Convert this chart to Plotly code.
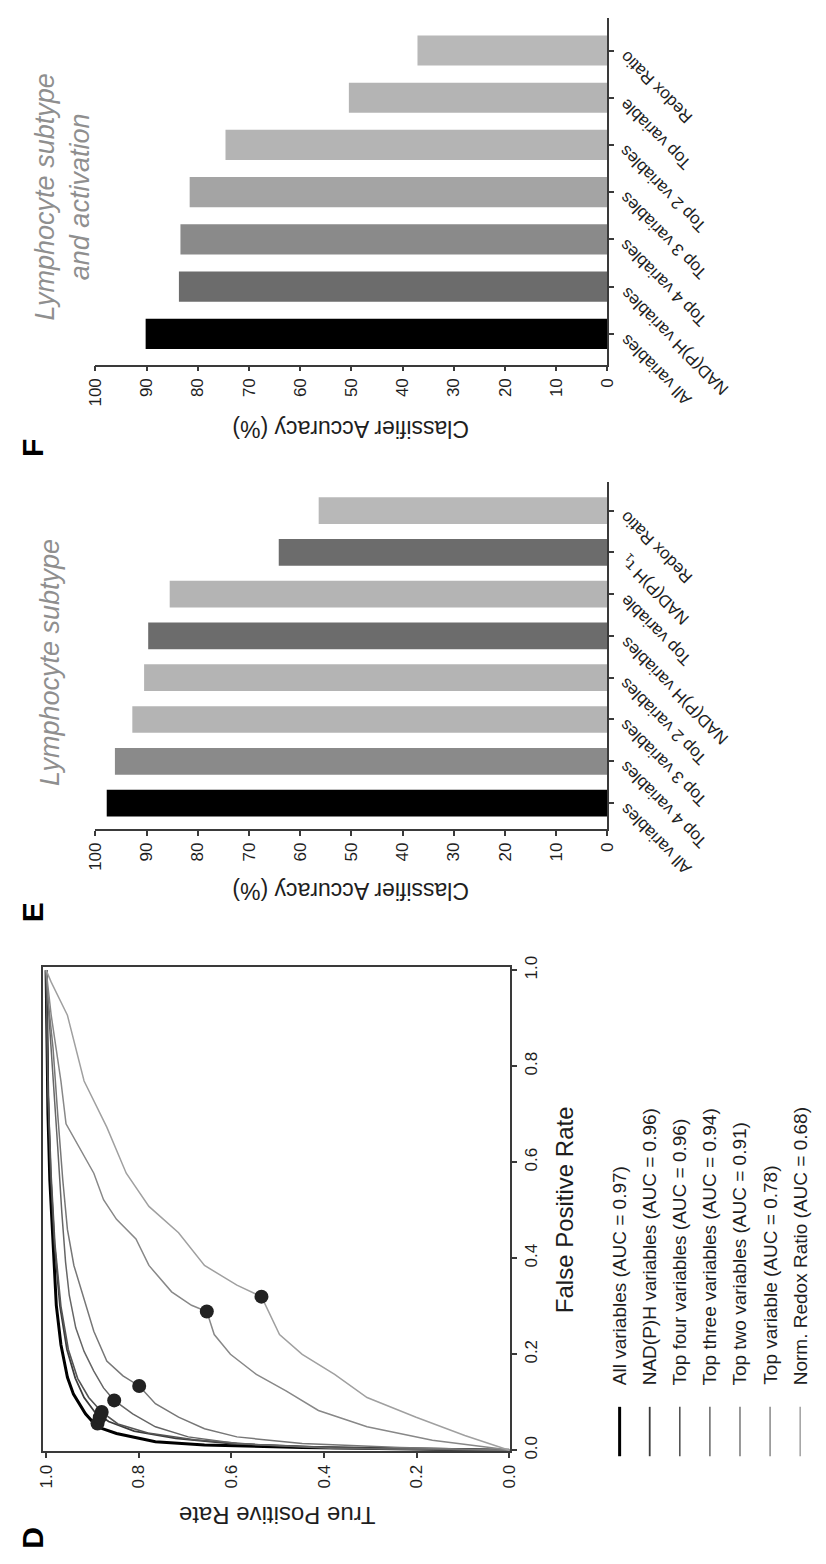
import plotly.graph_objects as go

# ---------------- data ----------------
# ROC curves (false positive rate, true positive rate)
roc_names = [
    "All variables (AUC = 0.97)",
    "NAD(P)H variables (AUC = 0.96)",
    "Top four variables (AUC = 0.96)",
    "Top three variables (AUC = 0.94)",
    "Top two variables (AUC = 0.91)",
    "Top variable (AUC = 0.78)",
    "Norm. Redox Ratio (AUC = 0.68)",
]

fpr_all = [0, 0.006, 0.011, 0.018, 0.035, 0.049, 0.076, 0.117, 0.152, 0.220, 0.302, 0.426, 0.563, 0.700, 0.940, 1.0]
tpr_all = [0, 0.447, 0.658, 0.764, 0.848, 0.890, 0.915, 0.941, 0.954, 0.968, 0.978, 0.985, 0.992, 0.996, 1.0, 1.0]

fpr_nadph = [0, 0.006, 0.014, 0.025, 0.040, 0.060, 0.080, 0.110, 0.150, 0.210, 0.300, 0.430, 0.570, 0.750, 1.0]
tpr_nadph = [0, 0.40, 0.60, 0.72, 0.81, 0.865, 0.895, 0.918, 0.937, 0.955, 0.970, 0.982, 0.990, 0.996, 1.0]

fpr_top4 = [0, 0.005, 0.012, 0.022, 0.036, 0.055, 0.080, 0.110, 0.150, 0.210, 0.300, 0.430, 0.570, 0.750, 1.0]
tpr_top4 = [0, 0.35, 0.55, 0.68, 0.78, 0.845, 0.880, 0.908, 0.932, 0.952, 0.968, 0.981, 0.989, 0.996, 1.0]

fpr_top3 = [0, 0.004, 0.014, 0.028, 0.049, 0.076, 0.104, 0.130, 0.165, 0.206, 0.255, 0.323, 0.392, 0.494, 0.632, 0.769, 0.906, 1.0]
tpr_top3 = [0, 0.377, 0.588, 0.693, 0.764, 0.813, 0.853, 0.876, 0.897, 0.918, 0.936, 0.950, 0.958, 0.966, 0.975, 0.985, 0.994, 1.0]

fpr_top2 = [0, 0.006, 0.014, 0.028, 0.045, 0.069, 0.097, 0.134, 0.155, 0.186, 0.248, 0.316, 0.385, 0.460, 0.563, 0.700, 0.837, 0.940, 1.0]
tpr_top2 = [0, 0.236, 0.447, 0.588, 0.658, 0.714, 0.764, 0.799, 0.834, 0.869, 0.897, 0.918, 0.940, 0.954, 0.964, 0.975, 0.985, 0.996, 1.0]

fpr_top1 = [0, 0.004, 0.021, 0.049, 0.083, 0.124, 0.158, 0.200, 0.241, 0.289, 0.302, 0.330, 0.385, 0.440, 0.481, 0.522, 0.577, 0.638, 0.680, 0.769, 0.906, 1.0]
tpr_top1 = [0, 0.025, 0.166, 0.307, 0.412, 0.482, 0.546, 0.602, 0.637, 0.653, 0.686, 0.729, 0.778, 0.806, 0.848, 0.876, 0.897, 0.932, 0.957, 0.968, 0.989, 1.0]

fpr_redox = [0, 0.031, 0.069, 0.110, 0.158, 0.200, 0.241, 0.320, 0.344, 0.385, 0.453, 0.508, 0.577, 0.673, 0.769, 0.906, 0.975, 1.0]
tpr_redox = [0, 0.096, 0.201, 0.307, 0.377, 0.447, 0.496, 0.535, 0.588, 0.658, 0.714, 0.778, 0.827, 0.869, 0.918, 0.954, 0.989, 1.0]

# operating points marked on each curve (same order as roc_names)
op_fpr = [0.056, 0.069, 0.080, 0.104, 0.134, 0.289, 0.320]
op_tpr = [0.889, 0.884, 0.880, 0.853, 0.799, 0.653, 0.535]

# classifier accuracy, lymphocyte subtype (listed bottom bar first)
subtype_labels = ["All variables", "Top 4 variables", "Top 3 variables", "Top 2 variables",
                  "NAD(P)H variables", "Top variable", "NAD(P)H τ<sub>1</sub>", "Redox Ratio"]
subtype_acc = [97.8, 96.2, 92.8, 90.5, 89.7, 85.5, 64.2, 56.4]

# classifier accuracy, lymphocyte subtype and activation
activation_labels = ["All variables", "NAD(P)H variables", "Top 4 variables", "Top 3 variables",
                     "Top 2 variables", "Top variable", "Redox Ratio"]
activation_acc = [90.2, 83.7, 83.4, 81.6, 74.6, 50.5, 37.1]

acc_ticks = [0, 10, 20, 30, 40, 50, 60, 70, 80, 90, 100]
rate_ticks = [0.0, 0.2, 0.4, 0.6, 0.8, 1.0]

# ---------------- styling ----------------
W, H = 826, 1564
FONT = "Liberation Sans, Arial, sans-serif"
INK = "#1e1e1e"
AXIS = "#3a3a3a"


def px(x):
    return x / W


def py(y):
    return 1 - y / H


roc_fpr = [fpr_all, fpr_nadph, fpr_top4, fpr_top3, fpr_top2, fpr_top1, fpr_redox]
roc_tpr = [tpr_all, tpr_nadph, tpr_top4, tpr_top3, tpr_top2, tpr_top1, tpr_redox]
roc_colors = ["#000000", "#3c3c3c", "#555555", "#666666", "#777777", "#888888", "#a0a0a0"]
roc_widths = [3.0, 1.8, 1.6, 1.5, 1.5, 1.5, 1.5]

subtype_colors = ["#000000", "#8a8a8a", "#b4b4b4", "#b4b4b4", "#6c6c6c", "#b4b4b4", "#6c6c6c", "#b8b8b8"]
activation_colors = ["#000000", "#6c6c6c", "#8a8a8a", "#a4a4a4", "#b4b4b4", "#b4b4b4", "#b8b8b8"]

fig = go.Figure()

# ROC panel (rotated: TPR runs right-to-left, FPR runs bottom-to-top)
for f, t, c, w in zip(roc_fpr, roc_tpr, roc_colors, roc_widths):
    fig.add_trace(go.Scatter(x=t, y=f, mode="lines", line=dict(color=c, width=w),
                             xaxis="x", yaxis="y", hoverinfo="skip"))
fig.add_trace(go.Scatter(x=op_tpr, y=op_fpr, mode="markers",
                         marker=dict(size=14, color="#222222"),
                         xaxis="x", yaxis="y", hoverinfo="skip"))

# bar panels (rotated: bars grow leftwards from the category axis)
fig.add_trace(go.Bar(x=subtype_acc, y=subtype_labels, orientation="h", width=0.64,
                     marker=dict(color=subtype_colors, line=dict(width=0)),
                     xaxis="x2", yaxis="y2"))
fig.add_trace(go.Bar(x=activation_acc, y=activation_labels, orientation="h", width=0.64,
                     marker=dict(color=activation_colors, line=dict(width=0)),
                     xaxis="x3", yaxis="y3"))

tickfont = dict(family=FONT, size=17, color=INK)
common = dict(showgrid=False, zeroline=False, showline=True, linecolor=AXIS, linewidth=1.5,
              ticks="outside", ticklen=5, tickcolor=AXIS, tickwidth=1.5, tickfont=tickfont)

fig.update_layout(
    width=W, height=H, margin=dict(l=0, r=0, t=0, b=0),
    paper_bgcolor="white", plot_bgcolor="white", showlegend=False,
    font=dict(family=FONT, color=INK),
    xaxis=dict(domain=[px(35), px(513)], range=[1.0063, -0.0021], anchor="y",
               mirror=True, tickvals=rate_ticks, tickformat=".1f", tickangle=-90, **common),
    yaxis=dict(domain=[py(1458), py(968)], range=[-0.002, 1.006], anchor="x", side="right",
               mirror=True, tickvals=rate_ticks, tickformat=".1f", tickangle=-90, **common),
    xaxis2=dict(domain=[px(88.5), px(612.5)], range=[100, 0], anchor="y2",
                tickvals=acc_ticks, tickangle=-90, **common),
    yaxis2=dict(domain=[py(828), py(477)], range=[-0.62, 7.68], anchor="x2", side="right",
                type="category", categoryorder="array", categoryarray=subtype_labels,
                showticklabels=False, **common),
    xaxis3=dict(domain=[px(88.5), px(612.5)], range=[100, 0], anchor="y3",
                tickvals=acc_ticks, tickangle=-90, **common),
    yaxis3=dict(domain=[py(358), py(7)], range=[-0.65, 6.69], anchor="x3", side="right",
                type="category", categoryorder="array", categoryarray=activation_labels,
                showticklabels=False, **common),
)

ann = []


def text(x, y, s, angle, size, color=INK):
    ann.append(dict(x=px(x), y=py(y), xref="paper", yref="paper", text=s, showarrow=False,
                    textangle=angle, xanchor="center", yanchor="middle",
                    font=dict(family=FONT, size=size, color=color)))


# axis titles
text(274, 1523, "True Positive Rate", 180, 24)
text(568, 1213, "False Positive Rate", -90, 24)
text(350, 891, "Classifier Accuracy (%)", 180, 23)
text(350, 423, "Classifier Accuracy (%)", 180, 23)

# panel titles
text(42, 660, "<i>Lymphocyte subtype</i>", -90, 27, color="#8f8f8f")
text(55, 188, "<i>Lymphocyte subtype<br>and activation</i>", -90, 27, color="#8f8f8f")

# panel letters
text(24, 1545, "<b>D</b>", -90, 30, color="#000000")
text(24, 912, "<b>E</b>", -90, 30, color="#000000")
text(24, 442, "<b>F</b>", -90, 30, color="#000000")

# slanted category labels next to the bar axes
for yref, labels in (("y2", subtype_labels), ("y3", activation_labels)):
    for lab in labels:
        ann.append(dict(x=px(619), y=lab, xref="paper", yref=yref, text=lab, showarrow=False,
                        textangle=-135, xanchor="left", yanchor="top", yshift=6,
                        font=dict(family=FONT, size=17, color=INK)))

# ROC legend: vertical line samples with rotated labels
shapes = []
for i, (name, c, w) in enumerate(zip(roc_names, roc_colors, roc_widths)):
    xc = 625 + 30.8 * i
    shapes.append(dict(type="line", xref="paper", yref="paper",
                       x0=px(xc), x1=px(xc), y0=py(1413), y1=py(1463),
                       line=dict(color=c, width=w)))
    ann.append(dict(x=px(xc), y=py(1393), xref="paper", yref="paper", text=name,
                    showarrow=False, textangle=-90, xanchor="center", yanchor="bottom",
                    font=dict(family=FONT, size=19, color=INK)))

fig.update_layout(annotations=ann, shapes=shapes)

fig.write_html("out.html")
